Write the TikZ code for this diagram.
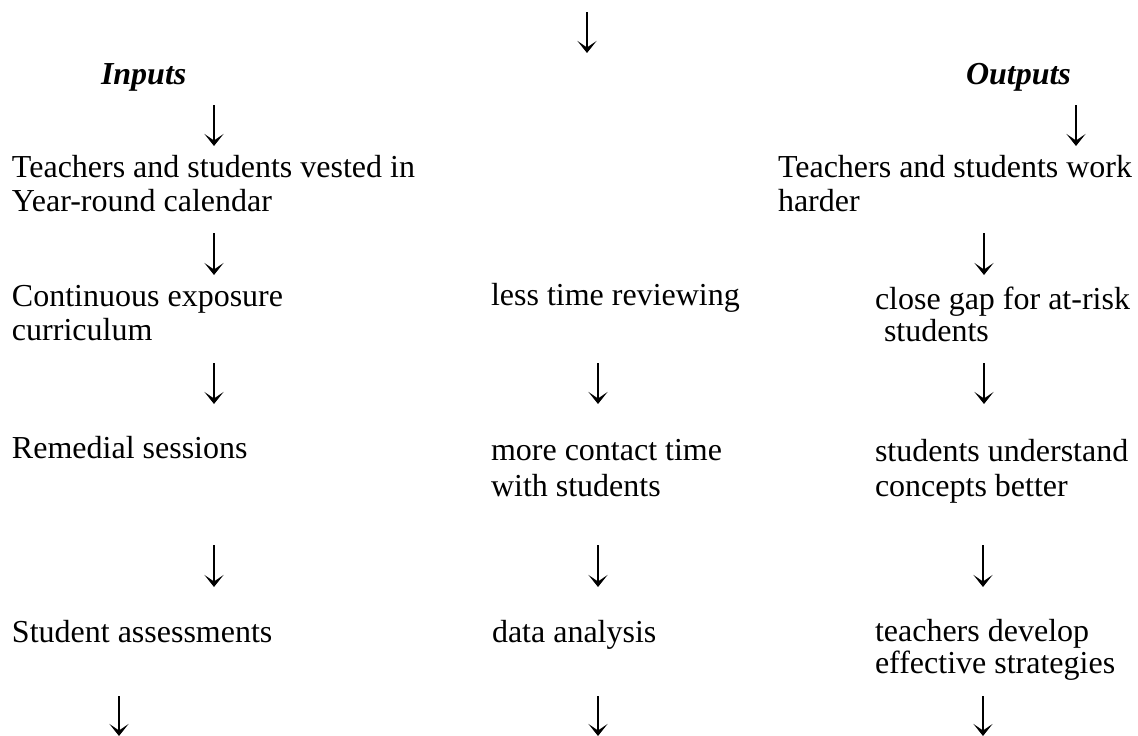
\documentclass[tikz,border=0pt]{standalone}
\usepackage{fontspec}
\setmainfont{Liberation Serif}
\usetikzlibrary{arrows.meta}
\newcommand{\blk}[2]{{\fontsize{32}{#1}\selectfont\begin{tabular}[t]{@{}l@{}}#2\end{tabular}}}
\begin{document}
\begin{tikzpicture}[x=1pt,y=-1pt,
  txt/.style={anchor=base west,inner sep=0pt,outer sep=0pt,font=\fontsize{32}{34}\selectfont},
  head/.style={txt,font=\fontsize{32}{34}\selectfont\bfseries\itshape},
  arr/.style={line width=1.9pt,-{Stealth[length=12pt,width=19pt,inset=6.5pt]}}]
\useasboundingbox (0,0) rectangle (1138,736);
% headings
\node[head] (inp) at (101,84) {Inputs};
\node[head] (outp) at (966,84) {Outputs};
% column 1
\node[txt] (c1a) at (12,177) {\blk{34}{Teachers and students vested in\\Year-round calendar}};
\node[txt] (c1b) at (12,306) {\blk{34}{Continuous exposure\\curriculum}};
\node[txt] (c1c) at (12,458) {Remedial sessions};
\node[txt] (c1d) at (12,642) {Student assessments};
% column 2
\node[txt] (c2b) at (491,305) {less time reviewing};
\node[txt] (c2c) at (491,460) {\blk{36}{more contact time\\with students}};
\node[txt] (c2d) at (492,642) {data analysis};
% column 3
\node[txt] (c3a) at (778,177) {\blk{34}{Teachers and students work\\harder}};
\node[txt] (c3b) at (875,309) {\blk{32}{close gap for at-risk\\\hspace*{9pt}students}};
\node[txt] (c3c) at (875,461) {\blk{35}{students understand\\concepts better}};
\node[txt] (c3d) at (875,641) {\blk{32}{teachers develop\\effective strategies}};
% arrow end points
\coordinate (t0s) at (587,12);  \coordinate (t0e) at (587,53);
\coordinate (a1s) at (214,105); \coordinate (a1e) at (214,146);
\coordinate (b1s) at (1076,105); \coordinate (b1e) at (1076,146);
\coordinate (a2s) at (214,233); \coordinate (a2e) at (214,275);
\coordinate (b2s) at (984,233); \coordinate (b2e) at (984,275);
\coordinate (a3s) at (214,363); \coordinate (a3e) at (214,404);
\coordinate (m3s) at (598,363); \coordinate (m3e) at (598,404);
\coordinate (b3s) at (984,363); \coordinate (b3e) at (984,404);
\coordinate (a4s) at (214,545); \coordinate (a4e) at (214,587);
\coordinate (m4s) at (598,545); \coordinate (m4e) at (598,587);
\coordinate (b4s) at (983,545); \coordinate (b4e) at (983,587);
\coordinate (a5s) at (119,696); \coordinate (a5e) at (119,736);
\coordinate (m5s) at (598,696); \coordinate (m5e) at (598,736);
\coordinate (b5s) at (983,696); \coordinate (b5e) at (983,736);
\foreach \p in {t0,a1,b1,a2,b2,a3,m3,b3,a4,m4,b4,a5,m5,b5}
  \draw[arr] (\p s) -- (\p e);
\end{tikzpicture}
\end{document}
